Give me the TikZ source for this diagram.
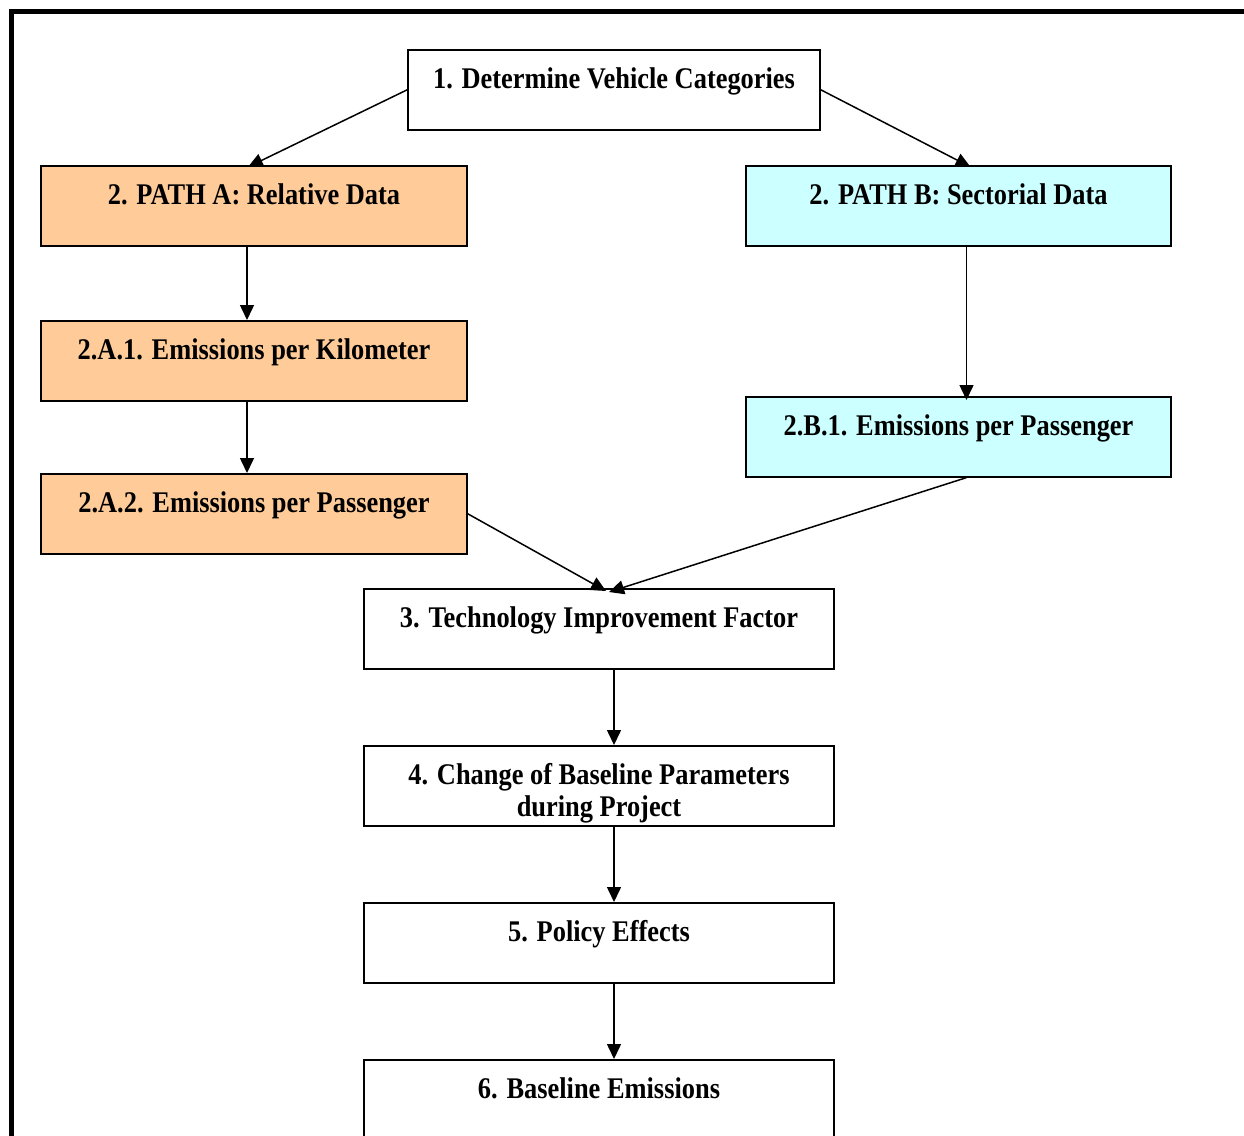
\documentclass[tikz,border=0pt]{standalone}
\usepackage{fontspec}
\setmainfont{Liberation Serif}[FakeStretch=0.88]
\usepackage{xcolor}
\usepackage{tikz}
\usetikzlibrary{arrows.meta,positioning}

\definecolor{pathAcol}{RGB}{255,204,153}
\definecolor{pathBcol}{RGB}{204,255,255}

\begin{document}
\begin{tikzpicture}[x=1pt,y=-1pt,
        stage/.style={draw, line width=1.6pt, inner sep=0pt, anchor=north, align=center,
            font=\bfseries\fontsize{30}{32}\selectfont, text height=38.5pt, text depth=41.5pt},
        flow/.style={-{Triangle[length=15pt,width=14pt]}, line width=1.5pt}]
        \clip (0,0) rectangle (1244,1135);

        % Frame
        \draw[line width=5pt] (11,1160) -- (11,11.5) -- (1270,11.5);

        % Boxes
        \node[stage, minimum width=412pt] (determine) at (614,49) {1. Determine Vehicle Categories};

        \node[stage, fill=pathAcol, minimum width=426pt] (pathA) at (254,165) {2. PATH A: Relative Data};
        \node[stage, fill=pathAcol, minimum width=426pt] (kmA) at (254,320) {2.A.1. Emissions per Kilometer};
        \node[stage, fill=pathAcol, minimum width=426pt] (passA) at (254,473) {2.A.2. Emissions per Passenger};

        \node[stage, fill=pathBcol, minimum width=425pt] (pathB) at (958.5,165) {2. PATH B: Sectorial Data};
        \node[stage, fill=pathBcol, minimum width=425pt] (passB) at (958.5,396) {2.B.1. Emissions per Passenger};

        \node[stage, minimum width=470pt] (tech) at (599,588) {3. Technology Improvement Factor};
        \node[stage, minimum width=470pt, text height=70.5pt, text depth=9.5pt] (change) at (599,745) {4. Change of Baseline Parameters\\during Project};
        \node[stage, minimum width=470pt] (policy) at (599,902) {5. Policy Effects};
        \node[stage, minimum width=470pt] (baseline) at (599,1059) {6. Baseline Emissions};

        % Arrows
        \draw[flow] (determine.west) -- ([xshift=-6pt,yshift=-2pt]pathA.north);
        \draw[flow] (determine.east) -- ([xshift=12pt,yshift=-2pt]pathB.north);

        \draw[flow] ([xshift=-7pt]pathA.south) -- ([xshift=-7pt]kmA.north);
        \draw[flow] ([xshift=-7pt]kmA.south) -- ([xshift=-7pt]passA.north);
        \draw[flow] ([xshift=8pt]pathB.south) -- ([xshift=8pt,yshift=-4pt]passB.north);

        \draw[flow] (passA.east) -- ([xshift=7pt,yshift=-3pt]tech.north);
        \draw[flow] ([xshift=8pt]passB.south) -- ([xshift=10pt,yshift=-4pt]tech.north);

        \draw[flow] ([xshift=15pt]tech.south) -- ([xshift=15pt]change.north);
        \draw[flow] ([xshift=15pt]change.south) -- ([xshift=15pt]policy.north);
        \draw[flow] ([xshift=15pt]policy.south) -- ([xshift=15pt]baseline.north);
    \end{tikzpicture}
\end{document}
